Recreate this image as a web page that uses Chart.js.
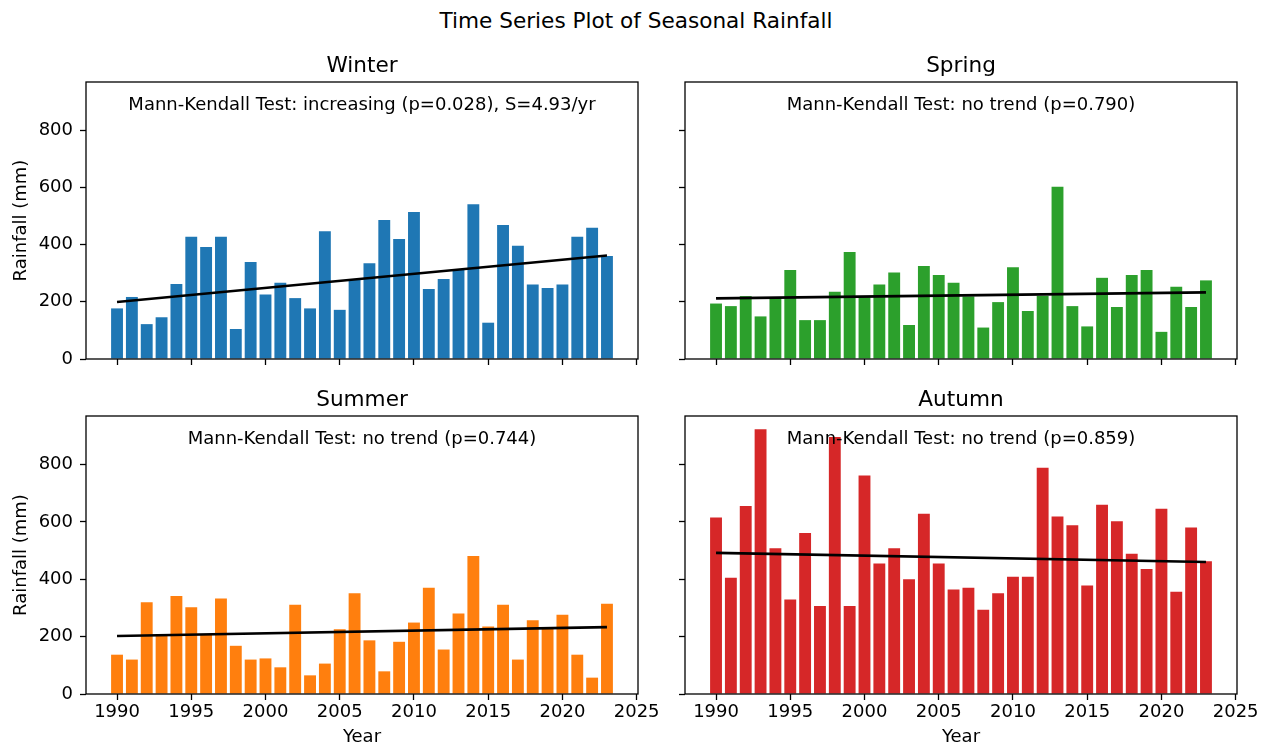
<!DOCTYPE html>
<html>
<head>
<meta charset="utf-8">
<title>Time Series Plot of Seasonal Rainfall</title>
<script src="https://cdn.jsdelivr.net/npm/chart.js@4.4.1/dist/chart.umd.min.js"></script>
<style>
  html, body { margin: 0; padding: 0; background: #fff; }
  #fig { position: relative; width: 1266px; height: 749px; overflow: hidden; background: #fff; }
  #suptitle {
    position: absolute; left: 0; width: 1272px; top: 8px;
    text-align: center; font: 21.6px/26px "DejaVu Sans", sans-serif; color: #000;
  }
  canvas { position: absolute; }
</style>
</head>
<body>
<div id="fig">
  <div id="suptitle">Time Series Plot of Seasonal Rainfall</div>
  <canvas id="winter" width="665" height="340" style="left:0px;top:40px;width:665px;height:340px"></canvas>
  <canvas id="spring" width="606" height="340" style="left:660px;top:40px;width:606px;height:340px"></canvas>
  <canvas id="summer" width="665" height="369" style="left:0px;top:380px;width:665px;height:369px"></canvas>
  <canvas id="autumn" width="606" height="369" style="left:660px;top:380px;width:606px;height:369px"></canvas>
</div>
<script>
// Seasonal rainfall totals (mm), 1990-2023
const years = [1990, 1991, 1992, 1993, 1994, 1995, 1996, 1997, 1998, 1999,
               2000, 2001, 2002, 2003, 2004, 2005, 2006, 2007, 2008, 2009,
               2010, 2011, 2012, 2013, 2014, 2015, 2016, 2017, 2018, 2019,
               2020, 2021, 2022, 2023];

const winterRain = [177, 217, 122, 146, 262, 428, 392, 428, 105, 339,
                    226, 267, 213, 177, 447, 172, 277, 335, 486, 420,
                    514, 245, 280, 312, 541, 127, 469, 396, 261, 248,
                    261, 428, 459, 360];
const springRain = [194, 185, 220, 149, 213, 311, 136, 136, 235, 374,
                    216, 261, 303, 119, 325, 294, 267, 219, 110, 199,
                    321, 168, 221, 603, 185, 114, 284, 182, 294, 311,
                    95, 253, 182, 275];
const summerRain = [137, 120, 320, 204, 342, 302, 206, 333, 168, 120,
                    124, 93, 311, 65, 106, 226, 351, 187, 79, 182,
                    249, 370, 155, 281, 481, 235, 311, 120, 257, 231,
                    276, 137, 57, 315];
const autumnRain = [615, 405, 655, 923, 508, 329, 561, 307, 896, 307,
                    762, 455, 508, 400, 628, 455, 364, 370, 294, 351,
                    409, 409, 789, 619, 588, 378, 660, 602, 489, 436,
                    646, 356, 580, 463];

// Trend lines: value at the first year and Sen's slope (mm/yr)
const seasonNames  = ['Winter', 'Spring', 'Summer', 'Autumn'];
const trendStart   = [199.5, 212, 202, 492];
const trendSlope   = [4.93, 0.64, 0.94, -0.97];
const mkNotes = [
  'Mann-Kendall Test: increasing (p=0.028), S=4.93/yr',
  'Mann-Kendall Test: no trend (p=0.790)',
  'Mann-Kendall Test: no trend (p=0.744)',
  'Mann-Kendall Test: no trend (p=0.859)'
];

// Axis ticks and limits
const xTicks = [1990, 1995, 2000, 2005, 2010, 2015, 2020, 2025];
const yTicks = [0, 200, 400, 600, 800];
const xLimits = [1987.91, 2025.09];
const yLimits = [0, 969];

const FONT = '"DejaVu Sans", sans-serif';
const LABEL_SIZE = 18;
const TITLE_SIZE = 21.6;
const seasonColors = ['#1f77b4', '#2ca02c', '#ff7f0e', '#d62728'];

// Subplot title, Mann-Kendall note and the axes frame
const panelText = {
  id: 'panelText',
  afterDraw(chart, args, opts) {
    const { ctx, chartArea: a } = chart;
    const cx = (a.left + a.right) / 2;
    ctx.save();
    ctx.fillStyle = '#000';
    ctx.textAlign = 'center';
    ctx.textBaseline = 'alphabetic';
    ctx.font = TITLE_SIZE + 'px ' + FONT;
    ctx.fillText(opts.title, cx, a.top - 10);
    ctx.font = LABEL_SIZE + 'px ' + FONT;
    ctx.fillText(opts.note, cx, a.top + 28);
    ctx.strokeStyle = '#000';
    ctx.lineWidth = 1.3;
    ctx.strokeRect(a.left, a.top, a.right - a.left, a.bottom - a.top);
    ctx.restore();
  }
};

function makePanel(canvasId, idx, values, layout) {
  const { leftCol, bottomRow, yWidth, xHeight, padTop, padRight } = layout;
  const x0 = years[0], x1 = years[years.length - 1];
  const trend = [
    { x: x0, y: trendStart[idx] },
    { x: x1, y: trendStart[idx] + trendSlope[idx] * (x1 - x0) }
  ];
  const labelFont = { family: FONT, size: LABEL_SIZE, lineHeight: 1.2 };
  return new Chart(document.getElementById(canvasId), {
    type: 'bar',
    data: {
      datasets: [
        {
          type: 'line',
          data: trend,
          borderColor: '#000',
          borderWidth: 2.6,
          pointRadius: 0,
          fill: false,
          order: 0
        },
        {
          type: 'bar',
          data: years.map((yr, i) => ({ x: yr, y: values[i] })),
          backgroundColor: seasonColors[idx],
          borderWidth: 0,
          barPercentage: 0.8,
          categoryPercentage: 1.0,
          order: 1
        }
      ]
    },
    options: {
      responsive: false,
      animation: false,
      events: [],
      layout: { padding: { left: 0, right: padRight, top: padTop, bottom: 0 } },
      plugins: {
        legend: { display: false },
        tooltip: { enabled: false },
        title: { display: false },
        panelText: { title: seasonNames[idx], note: mkNotes[idx] }
      },
      scales: {
        x: {
          type: 'linear',
          min: xLimits[0],
          max: xLimits[1],
          offset: false,
          afterBuildTicks: s => { s.ticks = xTicks.map(v => ({ value: v })); },
          afterFit: s => {
            s.height = xHeight;
            s.paddingLeft = 0; s.paddingRight = 0; s.paddingTop = 0; s.paddingBottom = 0;
          },
          ticks: {
            display: bottomRow,
            autoSkip: false,
            maxRotation: 0,
            padding: 2,
            color: '#000',
            font: labelFont,
            callback: v => String(v)
          },
          grid: {
            display: true,
            offset: false,
            drawOnChartArea: false,
            drawTicks: true,
            tickLength: 6,
            tickWidth: 1.3,
            tickColor: '#000'
          },
          border: { display: false },
          title: {
            display: bottomRow,
            text: 'Year',
            color: '#000',
            font: labelFont,
            padding: { top: 0, bottom: 1 }
          }
        },
        y: {
          type: 'linear',
          min: yLimits[0],
          max: yLimits[1],
          afterBuildTicks: s => { s.ticks = yTicks.map(v => ({ value: v })); },
          afterFit: s => {
            s.width = yWidth;
            s.paddingLeft = 0; s.paddingRight = 0; s.paddingTop = 0; s.paddingBottom = 0;
          },
          ticks: {
            display: leftCol,
            padding: 7,
            color: '#000',
            font: labelFont,
            callback: v => String(v)
          },
          grid: {
            display: true,
            drawOnChartArea: false,
            drawTicks: true,
            tickLength: 6,
            tickWidth: 1.3,
            tickColor: '#000'
          },
          border: { display: false },
          title: {
            display: leftCol,
            text: 'Rainfall (mm)',
            color: '#000',
            font: labelFont,
            padding: { top: 11, bottom: 0 }
          }
        }
      }
    },
    plugins: [panelText]
  });
}

makePanel('winter', 0, winterRain, { leftCol: true,  bottomRow: false, yWidth: 86, xHeight: 21, padTop: 42, padRight: 27 });
makePanel('spring', 1, springRain, { leftCol: false, bottomRow: false, yWidth: 25, xHeight: 21, padTop: 42, padRight: 29 });
makePanel('summer', 2, summerRain, { leftCol: true,  bottomRow: true,  yWidth: 86, xHeight: 55, padTop: 36, padRight: 27 });
makePanel('autumn', 3, autumnRain, { leftCol: false, bottomRow: true,  yWidth: 25, xHeight: 55, padTop: 36, padRight: 29 });
</script>
</body>
</html>
